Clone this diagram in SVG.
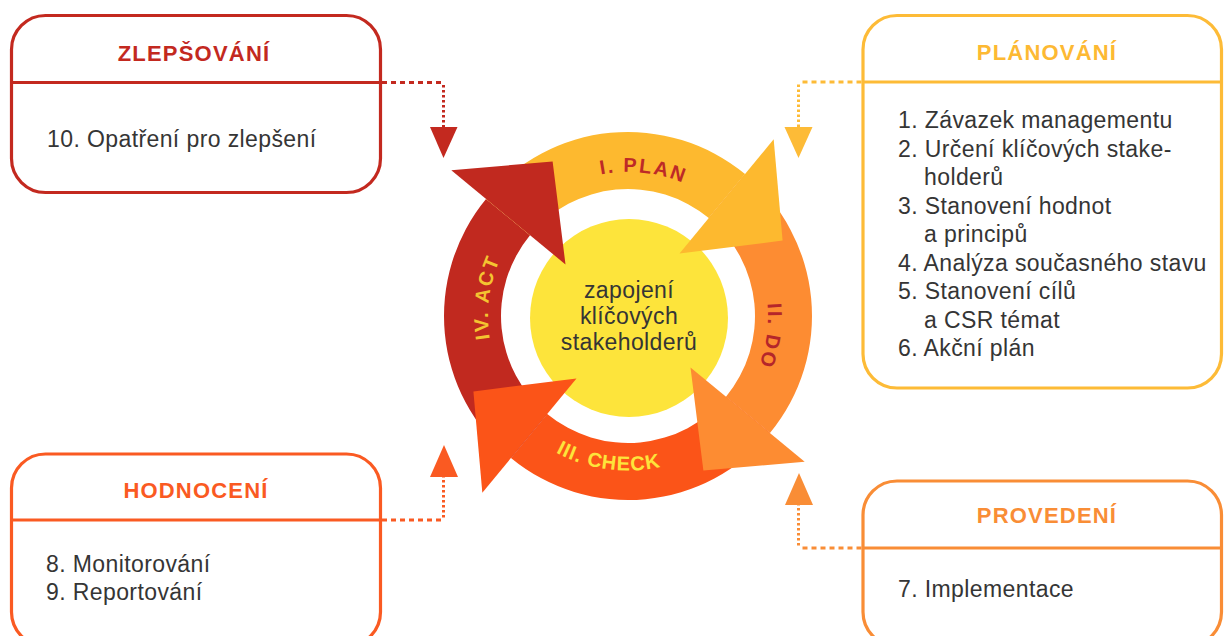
<svg xmlns="http://www.w3.org/2000/svg" xmlns:xlink="http://www.w3.org/1999/xlink" width="1224" height="636" viewBox="0 0 1224 636">
<style>
.box{fill:#fff;stroke-width:3.2}
.div{stroke-width:3.2}
.title{font-family:"Liberation Sans",Arial,sans-serif;font-weight:bold;font-size:22px;letter-spacing:1.2px;text-anchor:middle}
.body{font-family:"Liberation Sans",Arial,sans-serif;font-size:23px;letter-spacing:0.4px;fill:#353535}
.lbl{font-family:"Liberation Sans",Arial,sans-serif;font-weight:bold;font-size:20px;letter-spacing:2px}
.dh{fill:none;stroke-width:3;stroke-dasharray:5 4}
.dv{fill:none;stroke-width:3;stroke-dasharray:2.6 2.4}
</style>
<defs>
<path id="body" d="M745.04,174.03 A184,184 0 0 1 769.97,433.04 L725.99,396.78 A127,127 0 0 0 708.78,218.01 Z"/>
<path id="head" d="M804.70,461.67 L703.40,470.59 L690.50,367.52 Z"/>
<path id="pPlan" d="M498.57,252.87 A144,144 0 0 1 767.72,281.16"/>
<path id="pDo" d="M693.73,192.39 A140,140 0 0 1 657.11,452.94"/>
<path id="pAct" d="M563.57,440.29 A140,140 0 0 1 597.47,179.37"/>
<path id="pCheck" d="M477.05,348.91 A154.5,154.5 0 0 0 764.79,387.81"/>
</defs>
<rect width="1224" height="636" fill="#fff"/>

<g id="cycle">
<circle cx="629" cy="318" r="99" fill="#FDE43B"/>
<use xlink:href="#body" fill="#FD8C32"/>
<use xlink:href="#body" fill="#FB5418" transform="rotate(90 628 316)"/>
<use xlink:href="#body" fill="#C1291F" transform="rotate(180 628 316)"/>
<use xlink:href="#body" fill="#FDB92F" transform="rotate(270 628 316)"/>
<use xlink:href="#head" fill="#FD8C32"/>
<use xlink:href="#head" fill="#FB5418" transform="rotate(90 628 316)"/>
<use xlink:href="#head" fill="#C1291F" transform="rotate(180 628 316)"/>
<use xlink:href="#head" fill="#FDB92F" transform="rotate(270 628 316)"/>
<text class="lbl" fill="#BD2A27"><textPath xlink:href="#pPlan" startOffset="50%" text-anchor="middle">I. PLAN</textPath></text>
<text class="lbl" fill="#B5262A"><textPath xlink:href="#pDo" startOffset="50%" text-anchor="middle">II. DO</textPath></text>
<text class="lbl" fill="#FDE43B" style="letter-spacing:1px"><textPath xlink:href="#pCheck" startOffset="50%" text-anchor="middle">III. CHECK</textPath></text>
<text class="lbl" fill="#F4C431"><textPath xlink:href="#pAct" startOffset="50%" text-anchor="middle">IV. ACT</textPath></text>
<g class="body" text-anchor="middle">
<text x="629" y="298">zapojení</text>
<text x="629" y="324">klíčových</text>
<text x="629" y="350">stakeholderů</text>
</g>
</g>

<g id="zlepsovani">
<rect class="box" x="11.5" y="15.5" width="369" height="177" rx="34" stroke="#C3291F"/>
<line class="div" x1="11.5" y1="82.5" x2="380.5" y2="82.5" stroke="#C3291F"/>
<text class="title" x="194" y="61" fill="#C3291F">ZLEPŠOVÁNÍ</text>
<text class="body" x="47" y="146.5">10. Opatření pro zlepšení</text>
</g>

<g id="planovani">
<rect class="box" x="863" y="15.5" width="358.5" height="372.5" rx="34" stroke="#FDBB37"/>
<line class="div" x1="863" y1="82" x2="1221.5" y2="82" stroke="#FDBB37"/>
<text class="title" x="1047" y="59.5" fill="#FDB933">PLÁNOVÁNÍ</text>
<g class="body">
<text x="898" y="128">1. Závazek managementu</text>
<text x="898" y="156.5">2. Určení klíčových stake-</text>
<text x="924" y="185">holderů</text>
<text x="898" y="213.5">3. Stanovení hodnot</text>
<text x="924" y="242">a principů</text>
<text x="898" y="270.5">4. Analýza současného stavu</text>
<text x="898" y="299">5. Stanovení cílů</text>
<text x="924" y="327.5">a CSR témat</text>
<text x="898" y="356">6. Akční plán</text>
</g>
</g>

<g id="hodnoceni">
<rect class="box" x="11.5" y="454" width="369" height="192" rx="34" stroke="#FA5A22"/>
<line class="div" x1="11.5" y1="520" x2="380.5" y2="520" stroke="#FA5A22"/>
<text class="title" x="196" y="497.5" fill="#FA5A22">HODNOCENÍ</text>
<text class="body" x="46" y="571.5">8. Monitorování</text>
<text class="body" x="46" y="600">9. Reportování</text>
</g>

<g id="provedeni">
<rect class="box" x="863" y="481" width="358.5" height="165" rx="34" stroke="#F98D36"/>
<line class="div" x1="863" y1="548" x2="1221.5" y2="548" stroke="#F98D36"/>
<text class="title" x="1047" y="523" fill="#F98D36">PROVEDENÍ</text>
<text class="body" x="898" y="597">7. Implementace</text>
</g>

<g id="connectors">
<g stroke="#C3291F" fill="#C3291F">
<line class="dh" x1="382" y1="82.5" x2="443.5" y2="82.5"/>
<line class="dv" x1="443.5" y1="85" x2="443.5" y2="128"/>
<polygon points="430,127 457.5,127 443.5,158" stroke="none"/>
</g>
<g stroke="#FDBB37" fill="#FDBB37">
<line class="dh" x1="861.5" y1="82" x2="798.5" y2="82"/>
<line class="dv" x1="798.5" y1="84.5" x2="798.5" y2="128"/>
<polygon points="784.5,127 812.5,127 798.5,158" stroke="none"/>
</g>
<g stroke="#FA5A22" fill="#FA5A22">
<line class="dh" x1="382" y1="520" x2="443.5" y2="520"/>
<line class="dv" x1="443.5" y1="517.5" x2="443.5" y2="476"/>
<polygon points="430,477 458,477 444,445" stroke="none"/>
</g>
<g stroke="#F98D36" fill="#F98D36">
<line class="dh" x1="861.5" y1="548" x2="798.5" y2="548"/>
<line class="dv" x1="798.5" y1="545.5" x2="798.5" y2="504"/>
<polygon points="785,505 813,505 799,473" stroke="none"/>
</g>
</g>
</svg>
